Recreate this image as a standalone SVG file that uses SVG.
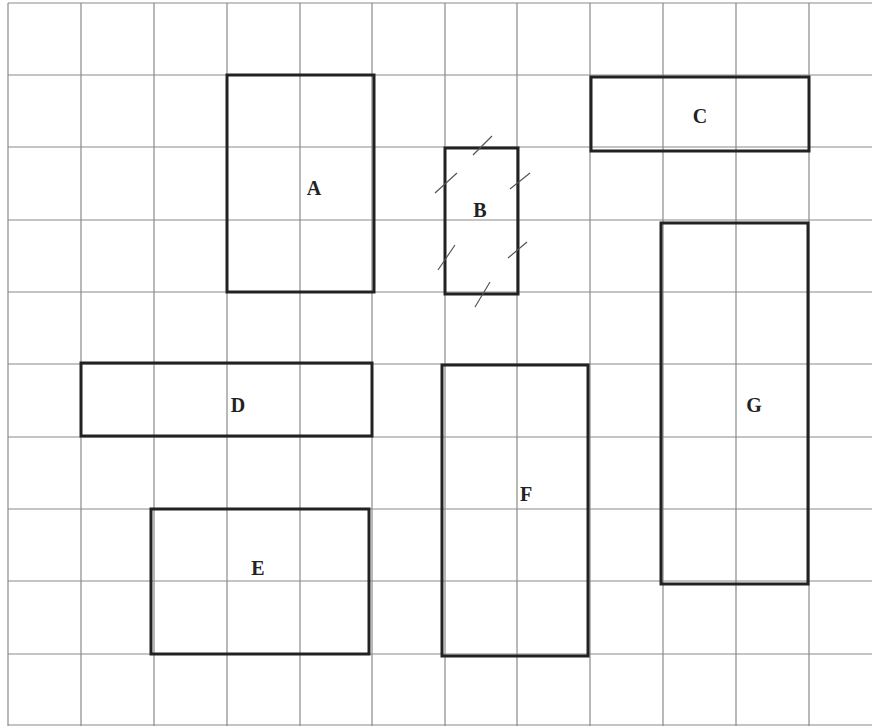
<svg xmlns="http://www.w3.org/2000/svg" width="872" height="728" viewBox="0 0 872 728">
<style>
.g{stroke:#8a8a8a;stroke-width:1.2;fill:none}
.b{stroke:#222;stroke-width:3;fill:none}
.t{stroke:#555;stroke-width:1.2}
.l{font-family:"Liberation Serif","Times New Roman",serif;font-weight:bold;font-size:20px;fill:#222;text-anchor:middle}
</style>
<rect width="872" height="728" fill="#fff"/>
<g id="grid">
<path class="g" d="M8,3V726M81,3V726M154,3V726M227,3V726M300,3V726M372,3V726M445,3V726M517,3V726M590,3V726M663,3V726M736,3V726M809,3V726"/>
<path class="g" d="M8,3H872M8,75H872M8,147H872M8,220H872M8,292H872M8,364H872M8,437H872M8,509H872M8,581H872M8,654H872M8,725H872"/>
</g>
<g id="A"><rect class="b" x="227" y="75" width="147" height="217"/><text class="l" x="314" y="195">A</text></g>
<g id="B"><rect class="b" x="445" y="148" width="73" height="146"/><text class="l" x="480" y="217">B</text>
<path class="t" d="M473,155L492,136M435,193L457,173M510,189L530,173M438,270L455,245M508,258L527,242M475,307L490,282"/></g>
<g id="C"><rect class="b" x="591" y="77" width="218" height="74"/><text class="l" x="700" y="123">C</text></g>
<g id="D"><rect class="b" x="81" y="363" width="291" height="73"/><text class="l" x="238" y="412">D</text></g>
<g id="E"><rect class="b" x="151" y="509" width="218" height="145"/><text class="l" x="258" y="575">E</text></g>
<g id="F"><rect class="b" x="442" y="365" width="146" height="291"/><text class="l" x="526" y="501">F</text></g>
<g id="G"><rect class="b" x="661" y="223" width="147" height="361"/><text class="l" x="754" y="412">G</text></g>
<g id="connectors"/>
</svg>
